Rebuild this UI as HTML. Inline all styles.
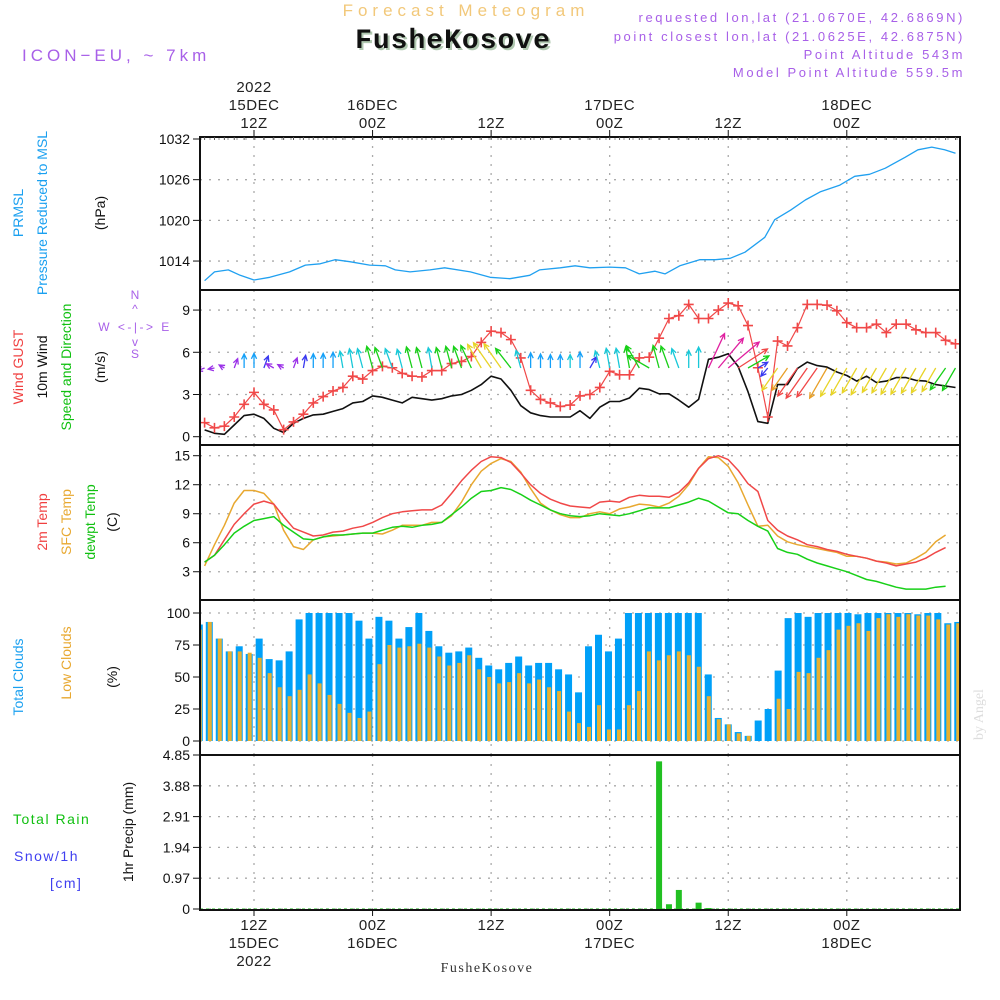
<!DOCTYPE html>
<html><head><meta charset="utf-8"><title>Forecast Meteogram FusheKosove</title>
<style>
html,body{margin:0;padding:0;background:#fff;}
svg{display:block;font-family:"Liberation Sans",sans-serif;}
</style></head>
<body>
<svg id="chart" width="1000" height="1000" viewBox="0 0 1000 1000" xmlns="http://www.w3.org/2000/svg">
<g id="texts">
<text x="466" y="16" text-anchor="middle" font-size="17" fill="#f2c87a" letter-spacing="5">Forecast Meteogram</text>
<text x="455" y="50" text-anchor="middle" font-size="28" font-weight="bold" font-family="Liberation Mono,monospace" fill="#b0c8b0" letter-spacing="1">FusheKosove</text>
<text x="453" y="48" text-anchor="middle" font-size="28" font-weight="bold" font-family="Liberation Mono,monospace" fill="#111" letter-spacing="1">FusheKosove</text>
<text x="22" y="61" font-size="17" fill="#a860e8" letter-spacing="4">ICON−EU, ~ 7km</text>
<g font-size="13" fill="#a860e8" text-anchor="end" letter-spacing="2.6">
<text x="965" y="22">requested lon,lat (21.0670E, 42.6869N)</text>
<text x="965" y="41">point closest lon,lat (21.0625E, 42.6875N)</text>
<text x="965" y="59">Point Altitude 543m</text>
<text x="965" y="77">Model Point Altitude 559.5m</text>
</g>
<text x="487" y="972" text-anchor="middle" font-size="14" font-family="Liberation Serif,serif" fill="#333" letter-spacing="1.5">FusheKosove</text>
<text transform="translate(983,740) rotate(-90)" font-size="14" font-family="Liberation Serif,serif" fill="#ddd">by Angel</text>
</g>
<g id="axes-labels" font-size="14">
<text transform="translate(23,213) rotate(-90)" text-anchor="middle" fill="#1aa0f0">PRMSL</text>
<text transform="translate(47,213) rotate(-90)" text-anchor="middle" fill="#1aa0f0">Pressure Reduced to MSL</text>
<text transform="translate(105,213) rotate(-90)" text-anchor="middle" fill="#111">(hPa)</text>
<text transform="translate(23,367) rotate(-90)" text-anchor="middle" fill="#f04040">Wind GUST</text>
<text transform="translate(47,367) rotate(-90)" text-anchor="middle" fill="#111">10m Wind</text>
<text transform="translate(71,367) rotate(-90)" text-anchor="middle" fill="#10c010">Speed and Direction</text>
<text transform="translate(105,367) rotate(-90)" text-anchor="middle" fill="#111">(m/s)</text>
<g fill="#a860e8" font-size="12">
<text x="135" y="299" text-anchor="middle">N</text>
<text x="135" y="313" text-anchor="middle">^</text>
<text x="135" y="331" text-anchor="middle" letter-spacing="2.5">W &lt;-|-&gt; E</text>
<text x="135" y="346" text-anchor="middle">v</text>
<text x="135" y="358" text-anchor="middle">S</text>
</g>
<text transform="translate(47,522) rotate(-90)" text-anchor="middle" fill="#f04040">2m Temp</text>
<text transform="translate(71,522) rotate(-90)" text-anchor="middle" fill="#e8a830">SFC Temp</text>
<text transform="translate(95,522) rotate(-90)" text-anchor="middle" fill="#10c010">dewpt Temp</text>
<text transform="translate(117,522) rotate(-90)" text-anchor="middle" fill="#111">(C)</text>
<text transform="translate(23,677) rotate(-90)" text-anchor="middle" fill="#1aa0f0">Total Clouds</text>
<text transform="translate(71,663) rotate(-90)" text-anchor="middle" fill="#e8a830">Low Clouds</text>
<text transform="translate(117,677) rotate(-90)" text-anchor="middle" fill="#111">(%)</text>
<text transform="translate(133,832) rotate(-90)" text-anchor="middle" fill="#111">1hr Precip (mm)</text>
<text x="13" y="824" fill="#10c010" letter-spacing="1.5">Total  Rain</text>
<text x="14" y="861" fill="#4040f0" letter-spacing="1.5">Snow/1h</text>
<text x="50" y="888" fill="#4040f0" letter-spacing="1.5">[cm]</text>
</g>
<g id="plot"></g>
</svg>
<script>
// ---- data ----
const pHours=[-5,-4,-2.6,-1.4,0,1.6,3.6,5.2,6.7,8.2,9.7,11.7,13.3,14.3,15.8,17.8,19.3,21.9,23.9,25.9,27.9,28.9,31,32.5,34,36,37.6,39,40.6,41.6,43.1,45.1,46.7,48.2,49.7,51.7,52.7,54.3,55.8,57.3,59.3,60.8,62.3,63.9,65.9,67.2,68.6,69.9,71];
const pVals=[1011.1,1012.4,1012.7,1011.9,1011.2,1011.6,1012.4,1013.4,1013.6,1014.2,1013.9,1013.4,1013.3,1012.7,1012.4,1012.7,1013.0,1012.4,1011.6,1011.4,1011.9,1012.7,1013.0,1013.3,1013.0,1013.1,1013.0,1012.1,1012.5,1012.1,1013.3,1014.2,1014.2,1014.4,1015.3,1017.5,1020.1,1021.5,1023.0,1024.2,1025.2,1026.5,1026.8,1027.7,1029.3,1030.4,1030.8,1030.4,1029.9];
const pTicks=[1014,1020,1026,1032];
// hourly series start at hour -5 (relative to 12Z 15DEC)
const gust=[1.0,0.63,0.75,1.4,2.3,3.15,2.3,1.9,0.5,1.05,1.6,2.4,2.85,3.25,3.5,4.3,4.1,4.7,5.0,4.9,4.5,4.3,4.25,4.7,4.7,5.2,5.35,5.7,6.7,7.5,7.4,6.9,5.6,3.3,2.65,2.4,2.15,2.25,2.9,3.0,3.5,4.65,4.4,4.4,5.6,5.65,7.0,8.4,8.6,9.4,8.4,8.4,9.0,9.5,9.3,7.9,4.9,1.4,6.8,6.45,7.75,9.4,9.4,9.35,8.95,8.1,7.75,7.75,8.0,7.4,8.0,8.0,7.6,7.4,7.4,6.85,6.6];
const wind=[0.48,0.24,0.17,0.83,1.5,1.6,1.3,0.6,0.3,0.95,1.3,1.55,1.6,1.8,2.0,2.4,2.5,2.9,2.8,2.6,2.4,2.8,2.7,2.6,2.7,2.9,3.0,3.3,3.7,4.3,4.1,3.3,2.2,1.7,1.5,1.4,1.4,1.4,1.85,1.3,2.1,2.5,2.5,2.75,3.45,3.35,3.05,3.05,2.6,2.1,2.65,5.5,5.65,5.9,5.0,3.2,1.07,0.95,3.7,3.7,4.85,5.3,5.05,4.95,4.6,4.35,3.95,4.3,3.85,3.95,4.2,4.2,4.0,3.95,3.7,3.6,3.5];
const windDir=[250,260,300,20,0,0,20,300,300,20,10,0,0,0,350,350,345,345,340,340,345,345,345,350,345,345,340,335,330,325,325,322,345,0,0,0,0,0,0,30,345,350,350,350,330,300,345,340,340,0,0,25,40,50,57,60,60,220,215,215,215,215,215,210,210,210,210,210,210,210,210,210,210,210,210,215,210];
const windCol=["p","p","p","p","l","l","b","p","p","p","b","l","l","l","c","c","c","g","g","c","c","g","g","c","g","g","g","g","y","y","y","g","c","l","l","l","l","c","l","b","c","c","c","g","g","g","g","g","c","c","c","m","m","m","r","g","b","b","y","o","r","r","r","o","y","y","y","y","y","y","y","y","y","y","y","g","g"];
const wTicks=[0,3,6,9];
const t2m=[4.0,4.7,6.3,7.9,9.0,10.0,10.3,10.0,8.7,7.5,7.1,6.7,6.8,7.1,7.2,7.5,7.7,8.1,8.6,9.0,9.2,9.3,9.4,9.4,9.9,11.1,12.4,13.5,14.4,14.9,14.8,14.3,13.2,12.0,11.1,10.5,10.1,9.8,9.7,9.6,10.2,10.3,10.2,10.7,10.9,10.8,10.8,10.7,11.2,12.2,13.7,14.7,15.0,14.6,13.5,12.1,11.3,8.3,7.3,6.7,6.3,5.8,5.6,5.3,5.1,4.8,4.6,4.4,4.1,3.9,3.6,3.8,4.0,4.4,5.0,5.5];
const tSfc=[3.6,5.8,7.8,10.1,11.4,11.4,11.1,10.0,7.3,5.6,5.3,6.3,6.6,6.7,6.8,6.9,7.0,7.0,6.9,7.3,7.8,7.8,7.8,8.1,8.1,8.8,10.2,12.0,13.4,14.2,14.7,14.4,13.3,11.6,10.1,9.4,8.9,8.6,8.6,9.0,9.2,9.0,9.5,9.7,10.0,9.9,9.7,10.1,10.8,12.0,13.7,14.9,14.8,13.9,12.2,9.9,7.7,7.8,6.7,6.1,5.8,5.6,5.4,5.2,5.0,4.6,4.6,4.4,4.1,4.0,3.8,3.9,4.4,5.0,6.1,6.8];
const tDew=[4.0,4.7,5.8,7.0,7.7,8.3,8.5,8.7,7.8,7.1,6.4,6.3,6.6,6.8,6.8,6.9,7.0,7.0,7.3,7.6,7.7,7.6,7.8,7.9,8.1,8.9,9.7,10.6,11.3,11.4,11.7,11.5,11.0,10.4,9.9,9.4,9.0,8.8,8.7,8.8,9.0,8.9,8.8,9.0,9.3,9.6,9.6,9.6,9.9,10.2,10.6,10.3,9.7,9.1,9.0,8.3,7.7,7.2,5.4,5.0,4.8,4.3,3.9,3.6,3.3,3.0,2.6,2.2,2.0,1.7,1.4,1.2,1.2,1.2,1.4,1.5];
const tTicks=[3,6,9,12,15];
const cloudTotal=[91,93,80,70,74,68,80,64,63,70,95,100,100,100,100,100,94,80,97,94,80,89,100,86,74,69,70,73,65,59,56,61,66,59,61,61,56,52,38,74,83,70,80,100,100,100,100,100,100,100,100,52,18,13,7,4,16,25,55,96,100,97,100,100,100,100,99,100,100,100,100,100,99,100,100,92,93];
const cloudLow=[87,93,80,70,70,69,65,53,42,35,40,52,45,36,29,22,18,23,60,75,73,74,76,73,66,59,61,67,56,50,45,46,53,45,48,42,39,23,14,11,28,9,9,28,39,70,63,67,70,67,58,35,17,13,6,4,0,0,33,25,54,53,65,71,87,90,92,86,96,99,97,99,98,98,95,91,92];
const cTicks=[0,25,50,75,100];
const precipHours=[41,42,43,45,46];
const precipVals=[4.65,0.15,0.6,0.2,0.03];
const prTicks=[0,0.97,1.94,2.91,3.88,4.85];
const timeTicks=[0,12,24,36,48,60];

// ---- scales ----
const X0=200,X1=960;
const xs=h=>254+h*9.88;
const xBar=i=>199.3+i*9.98;
const yP=p=>139+(1032-p)*6.78;
const yW=v=>436.7-v*14.07;
const yT=t=>455.7+(15-t)*9.67;
const yC=c=>741-c*1.28;
const yR=r=>909-r*31.75;
const colors={p:"#9a30e8",b:"#3838f0",l:"#14a0f8",c:"#18c8d8",g:"#18d018",y:"#e8d428",o:"#e8a028",r:"#f04848",m:"#e020a0"};
const panels=[[137,290],[290,445],[445,600],[600,755],[755,910]];
const NS="http://www.w3.org/2000/svg";
const plot=document.getElementById('plot');
function mk(tag,attrs,parent){const e=document.createElementNS(NS,tag);for(const k in attrs)e.setAttribute(k,attrs[k]);(parent||plot).appendChild(e);return e;}

const defs=mk('defs',{});
const cp=mk('clipPath',{id:'pc'},defs);
mk('rect',{x:X0,y:137,width:X1-X0,height:773},cp);

const grid=mk('g',{stroke:'#aaa','stroke-width':1.3,'stroke-dasharray':'2,7'});


panels.forEach(([a,b])=>{timeTicks.forEach(h=>{mk('line',{x1:xs(h),x2:xs(h),y1:a,y2:b},grid);});});
function hgrid(ticks,fy,fmt,name){
  ticks.forEach(t=>{
    const y=fy(t);
    mk('line',{x1:X0,x2:X1,y1:y,y2:y},grid);
    const lab=mk('text',{x:190,y:y+5,'text-anchor':'end','font-size':14,fill:'#111'});
    lab.textContent=fmt(t);
    
    
    mk('line',{x1:193,x2:200,y1:y,y2:y,stroke:'#111','stroke-width':1});
  });
}
hgrid(pTicks,yP,t=>t,'pressure');
hgrid(wTicks,yW,t=>t,'wind');
hgrid(tTicks,yT,t=>t,'temp');
hgrid(cTicks,yC,t=>t,'cloud');
hgrid(prTicks,yR,t=>t===0?'0':t.toFixed(2),'precip');

const g=mk('g',{'clip-path':'url(#pc)'});

cloudTotal.forEach((v,i)=>{
  const x=xBar(i);
  const r=mk('rect',{x:x-3.5,y:yC(v),width:7,height:yC(0)-yC(v),fill:'#00a0f8'},g);
  
  
});
cloudLow.forEach((v,i)=>{
  const x=xBar(i);
  const r=mk('rect',{x:x-1.5,y:yC(v),width:4,height:yC(0)-yC(v),fill:'#e8b030'},g);
  
  
});
precipVals.forEach((v,i)=>{
  const x=xs(precipHours[i]);
  const r=mk('rect',{x:x-3,y:yR(v),width:6,height:Math.max(yR(0)-yR(v),1),fill:'#22c022'},g);
  
  
});
mk('line',{x1:X0,x2:X1,y1:909,y2:909,stroke:'#22c022','stroke-width':1,'stroke-dasharray':'3,3'},g);

function line(vals,fy,color,w,name,hours){
  const pts=vals.map((v,i)=>(hours?xs(hours[i]):xs(i-5)).toFixed(1)+','+fy(v).toFixed(1)).join(' ');
  const l=mk('polyline',{points:pts,fill:'none',stroke:color,'stroke-width':w,'stroke-linejoin':'round'},g);
  
  
}
line(pVals,yP,'#20a0f0',1.3,'pressure-line',pHours);
line(tSfc,yT,'#e8a830',1.5,'sfc-temp-line');
line(t2m,yT,'#f04848',1.5,'temp-2m-line');
line(tDew,yT,'#18d018',1.5,'dewpoint-line');
line(wind,yW,'#111',1.6,'wind-speed-line');
line(gust,yW,'#f04848',1.2,'gust-line');
gust.forEach((v,i)=>{
  const x=xs(i-5),y=yW(v);
  const m=mk('path',{d:`M${x-5},${y}H${x+5}M${x},${y-5}V${y+5}`,stroke:'#f04848','stroke-width':1.6},g);
  
  
});
windDir.forEach((d,i)=>{
  const x=xs(i-5),y=368;
  const len=5+wind[i]*6;
  const a=d*Math.PI/180;
  const tx=x+Math.sin(a)*len,ty=y-Math.cos(a)*len;
  const c=colors[windCol[i]];
  const ha1=a+Math.PI-0.45,ha2=a+Math.PI+0.45;
  const p=`M${x},${y}L${tx},${ty}M${tx+Math.sin(ha1)*6},${ty-Math.cos(ha1)*6}L${tx},${ty}L${tx+Math.sin(ha2)*6},${ty-Math.cos(ha2)*6}`;
  const e=mk('path',{d:p,stroke:c,'stroke-width':1.3,fill:'none'},g);
  
  
});

panels.forEach(([a,b],i)=>{
  const r=mk('rect',{x:X0,y:a,width:X1-X0,height:b-a,fill:'none',stroke:'#111','stroke-width':2});
  
  
});
for(let h=-5;h<=71;h++){mk('line',{x1:xs(h),x2:xs(h),y1:137,y2:140,stroke:'#555','stroke-width':1});}

const topLab=[["2022","15DEC","12Z"],["","16DEC","00Z"],["","","12Z"],["","17DEC","00Z"],["","","12Z"],["","18DEC","00Z"]];
const botLab=[["12Z","15DEC","2022"],["00Z","16DEC",""],["12Z","",""],["00Z","17DEC",""],["12Z","",""],["00Z","18DEC",""]];
timeTicks.forEach((h,i)=>{
  const x=xs(h);
  mk('line',{x1:x,x2:x,y1:130,y2:137,stroke:'#111'});
  mk('line',{x1:x,x2:x,y1:910,y2:916,stroke:'#111'});
  topLab[i].forEach((s,j)=>{ if(!s)return;
    const t=mk('text',{x:x,y:92+j*18,'text-anchor':'middle','font-size':15,fill:'#222','letter-spacing':0.5});
    t.textContent=s;
    
    
  });
  botLab[i].forEach((s,j)=>{ if(!s)return;
    const t=mk('text',{x:x,y:930+j*18,'text-anchor':'middle','font-size':15,fill:'#222','letter-spacing':0.5});
    t.textContent=s;
    
    
  });
});
</script>
</body></html>
